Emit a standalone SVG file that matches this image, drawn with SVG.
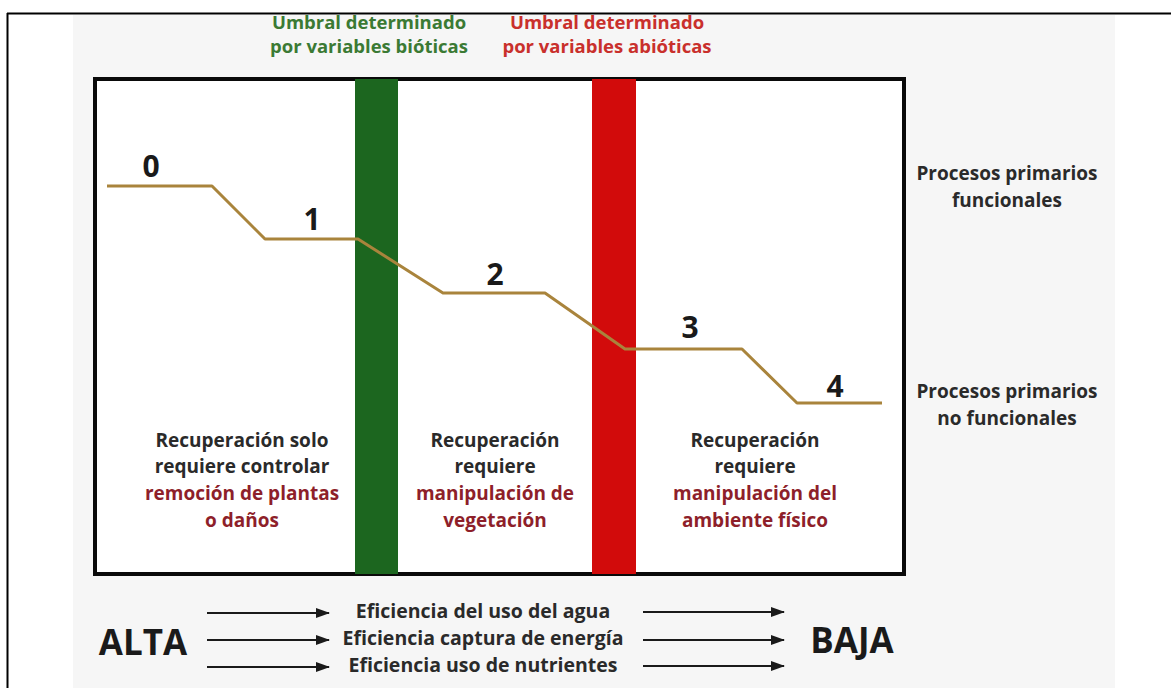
<svg xmlns="http://www.w3.org/2000/svg" width="1171" height="688" viewBox="0 0 1171 688">
<style>
text{font-family:"Open Sans","Liberation Sans",sans-serif;font-weight:bold;text-anchor:middle}
.lbl{font-size:19px;fill:#2a2a2a}
.red{fill:#8e1f2a}
.num{font-size:30px;fill:#1a1a1a}
.big{font-size:35px;fill:#1a1a1a}
.eff{font-size:19.5px;fill:#2a2a2a}
.top{font-size:18.5px}
.arr{stroke:#1a1a1a;stroke-width:2;fill:none}
</style>
<defs>
<marker id="ah" markerWidth="14" markerHeight="12" refX="13" refY="6" orient="auto" markerUnits="userSpaceOnUse">
<path d="M0,1 L14,6 L0,11 Z" fill="#1a1a1a"/>
</marker>
</defs>
<rect x="0" y="0" width="1171" height="688" fill="#ffffff"/>
<rect x="73" y="15" width="1042" height="673" fill="#f6f6f6"/>
<g id="frame">
<line x1="7" y1="13.5" x2="1171" y2="13.5" stroke="#000" stroke-width="2"/>
<line x1="7.5" y1="13" x2="7.5" y2="688" stroke="#000" stroke-width="2"/>
</g>
<g id="box">
<rect x="95" y="79" width="809" height="495" fill="#ffffff" stroke="#0a0a0a" stroke-width="4"/>
</g>
<g id="umbral-biotico">
<rect x="355" y="79" width="43" height="495" fill="#1c661f"/>
<text class="top" x="369" y="29" fill="#3b7a34">Umbral determinado</text>
<text class="top" x="369" y="53" fill="#3b7a34">por variables bióticas</text>
</g>
<g id="umbral-abiotico">
<rect x="592" y="79" width="44" height="495" fill="#d20b0b"/>
<text class="top" x="607" y="29" fill="#c9302c">Umbral determinado</text>
<text class="top" x="607" y="53" fill="#c9302c">por variables abióticas</text>
</g>
<g id="connectors">
<polyline points="107,186 212,186 265,239 358,239 443,293 545,293 625,349 742,349 797,403 882,403" fill="none" stroke="#a9843c" stroke-width="3" stroke-linejoin="round"/>
<line class="arr" x1="207" y1="613" x2="329" y2="613" marker-end="url(#ah)"/>
<line class="arr" x1="207" y1="640" x2="329" y2="640" marker-end="url(#ah)"/>
<line class="arr" x1="207" y1="667" x2="329" y2="667" marker-end="url(#ah)"/>
<line class="arr" x1="643" y1="612" x2="784" y2="612" marker-end="url(#ah)"/>
<line class="arr" x1="643" y1="640" x2="784" y2="640" marker-end="url(#ah)"/>
<line class="arr" x1="643" y1="666" x2="784" y2="666" marker-end="url(#ah)"/>
</g>
<g id="estado-0"><text class="num" x="151" y="177">0</text></g>
<g id="estado-1"><text class="num" x="312" y="230">1</text></g>
<g id="estado-2"><text class="num" x="495" y="285">2</text></g>
<g id="estado-3"><text class="num" x="690" y="338">3</text></g>
<g id="estado-4"><text class="num" x="835" y="397">4</text></g>
<g id="procesos-funcionales">
<text class="lbl" x="1007" y="180">Procesos primarios</text>
<text class="lbl" x="1007" y="207">funcionales</text>
</g>
<g id="procesos-no-funcionales">
<text class="lbl" x="1007" y="398">Procesos primarios</text>
<text class="lbl" x="1007" y="425">no funcionales</text>
</g>
<g id="recuperacion-1">
<text class="lbl" x="242" y="447">Recuperación solo</text>
<text class="lbl" x="242" y="473">requiere controlar</text>
<text class="lbl red" x="242" y="500">remoción de plantas</text>
<text class="lbl red" x="242" y="527">o daños</text>
</g>
<g id="recuperacion-2">
<text class="lbl" x="495" y="447">Recuperación</text>
<text class="lbl" x="495" y="473">requiere</text>
<text class="lbl red" x="495" y="500">manipulación de</text>
<text class="lbl red" x="495" y="527">vegetación</text>
</g>
<g id="recuperacion-3">
<text class="lbl" x="755" y="447">Recuperación</text>
<text class="lbl" x="755" y="473">requiere</text>
<text class="lbl red" x="755" y="500">manipulación del</text>
<text class="lbl red" x="755" y="527">ambiente físico</text>
</g>
<g id="alta"><text class="big" x="143" y="655">ALTA</text></g>
<g id="baja"><text class="big" x="852" y="653" font-size="37">BAJA</text></g>
<g id="eficiencias">
<text class="eff" x="483" y="618">Eficiencia del uso del agua</text>
<text class="eff" x="483" y="645">Eficiencia captura de energía</text>
<text class="eff" x="483" y="672">Eficiencia uso de nutrientes</text>
</g>
</svg>
